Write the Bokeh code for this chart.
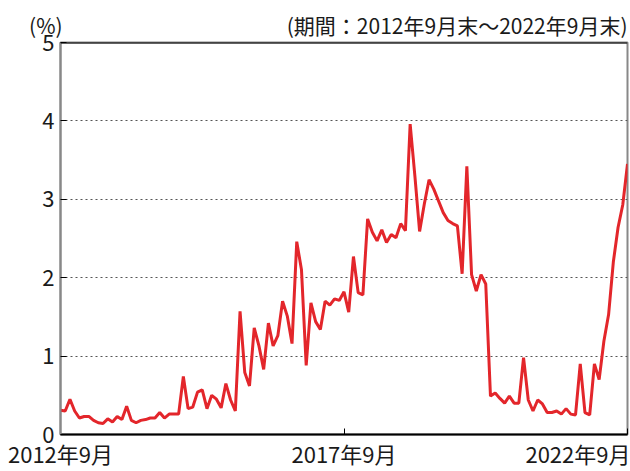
from bokeh.plotting import figure
from bokeh.models import ColumnDataSource, FixedTicker, Span
from bokeh.embed import file_html
from bokeh.resources import INLINE

tick_positions = [0, 60, 120]
tick_labels = ["2012年9月", "2017年9月", "2022年9月"]
period_text = "(期間：2012年9月末～2022年9月末)"
unit_text = "(%)"

values = [
    0.31, 0.30, 0.45, 0.30, 0.21, 0.23, 0.23, 0.18, 0.15, 0.14,
    0.20, 0.16, 0.23, 0.19, 0.36, 0.18, 0.15, 0.18, 0.19, 0.21,
    0.21, 0.28, 0.21, 0.26, 0.26, 0.26, 0.74, 0.33, 0.35, 0.54,
    0.57, 0.33, 0.50, 0.45, 0.34, 0.65, 0.44, 0.30, 1.57, 0.79,
    0.62, 1.36, 1.13, 0.83, 1.42, 1.13, 1.26, 1.70, 1.51, 1.16,
    2.46, 2.10, 0.88, 1.68, 1.44, 1.34, 1.70, 1.65, 1.73, 1.71,
    1.82, 1.56, 2.27, 1.81, 1.78, 2.75, 2.58, 2.47, 2.61, 2.45,
    2.55, 2.51, 2.69, 2.60, 3.96, 3.30, 2.59, 2.94, 3.25, 3.13,
    2.98, 2.83, 2.73, 2.69, 2.66, 2.05, 3.42, 2.04, 1.83, 2.04,
    1.92, 0.49, 0.53, 0.46, 0.40, 0.49, 0.40, 0.40, 0.98, 0.44,
    0.30, 0.44, 0.39, 0.28, 0.28, 0.30, 0.26, 0.33, 0.26, 0.25,
    0.90, 0.28, 0.25, 0.90, 0.70, 1.19, 1.53, 2.20, 2.64, 2.93,
    3.45,
]
months = list(range(len(values)))

FONT = "Noto Sans CJK JP"
TXT = "#1a1a1a"

p = figure(width=630, height=471, output_backend="svg", toolbar_location=None,
           x_range=(0, 120), y_range=(0, 5),
           min_border_left=60, min_border_right=3, min_border_top=42, min_border_bottom=31)
p.background_fill_color = "white"
p.border_fill_color = "white"
p.outline_line_color = "#888888"
p.outline_line_width = 2

# one header row: unit on the left, period on the right (non-collapsing spaces between)
p.title.text = unit_text + "\u3000" * 10 + "\u00a0" * 3 + period_text
p.title.align = "right"
p.title.text_font = FONT
p.title.text_font_size = "21px"
p.title.text_font_style = "normal"
p.title.text_color = TXT
p.title.standoff = 6

src = ColumnDataSource(dict(x=months, y=values))
p.line("x", "y", source=src, line_color="#e3262b", line_width=3)

# axes
p.xaxis.ticker = FixedTicker(ticks=tick_positions)
p.xaxis.major_label_overrides = {t: l for t, l in zip(tick_positions, tick_labels)}
p.xaxis.major_label_text_font = FONT
p.xaxis.major_label_text_font_size = "22px"
p.xaxis.major_label_text_color = TXT
p.xaxis.major_label_standoff = 2
p.xaxis.axis_line_color = "black"
p.xaxis.axis_line_width = 2
p.xaxis.major_tick_in = 6
p.xaxis.major_tick_out = 0
p.xaxis.major_tick_line_color = "black"
p.xaxis.minor_tick_line_color = None

p.yaxis.ticker = FixedTicker(ticks=[0, 1, 2, 3, 4, 5])
p.yaxis.major_label_text_font = FONT
p.yaxis.major_label_text_font_size = "22px"
p.yaxis.major_label_text_color = TXT
p.yaxis.major_label_standoff = 6
p.yaxis.axis_line_color = "#888888"
p.yaxis.axis_line_width = 2
p.yaxis.major_tick_in = 6
p.yaxis.major_tick_out = 0
p.yaxis.major_tick_line_color = "black"
p.yaxis.minor_tick_line_color = None

p.xgrid.grid_line_color = None
p.ygrid.ticker = FixedTicker(ticks=[1, 2, 3, 4])
p.ygrid.grid_line_color = "#555555"
p.ygrid.grid_line_dash = "2 3"
p.ygrid.grid_line_width = 1

p.add_layout(Span(location=5, dimension="width", line_color="black", line_width=2))

open("out.html", "w").write(file_html(p, INLINE))
